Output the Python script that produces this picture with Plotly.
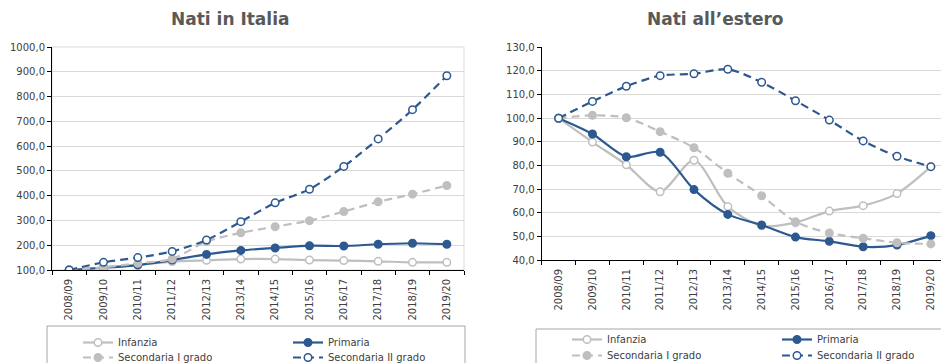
import plotly.graph_objects as go

# School years (x categories)
anni = ["2008/09", "2009/10", "2010/11", "2011/12", "2012/13", "2013/14",
        "2014/15", "2015/16", "2016/17", "2017/18", "2018/19", "2019/20"]

# Index numbers (2008/09 = 100) - students born in Italy
italia_infanzia = [100, 111, 120, 134, 139, 144, 144, 140, 138, 135, 131, 131]
italia_primaria = [100, 109, 120, 140, 163, 179, 189, 198, 197, 204, 208, 204]
italia_sec1 = [100, 111, 127, 145, 215, 250, 275, 299, 336, 375, 406, 441]
italia_sec2 = [100, 131, 150, 175, 221, 295, 371, 426, 518, 629, 747, 884]

# Index numbers (2008/09 = 100) - students born abroad
estero_infanzia = [100, 89.9, 80.3, 68.9, 82.2, 62.6, 54.5, 55.8, 60.7, 63.0, 68.1, 79.5]
estero_primaria = [100, 93.3, 83.7, 85.6, 69.8, 59.3, 54.8, 49.7, 47.9, 45.6, 46.3, 50.3]
estero_sec1 = [100, 101.2, 100.2, 94.3, 87.5, 76.7, 67.2, 56.2, 51.4, 49.2, 47.3, 46.8]
estero_sec2 = [100, 107.1, 113.5, 118.0, 118.8, 120.7, 115.2, 107.4, 99.2, 90.4, 83.9, 79.5]

titoli = ["Nati in Italia", "Nati all\u2019estero"]
serie_nomi = ["Infanzia", "Primaria", "Secondaria I grado", "Secondaria II grado"]

BLU = "#2D5990"
GRIGIO = "#BFBFBF"
TESTO = "#404040"
W, H = 941, 363

styles = [
    dict(color=GRIGIO, dash="solid", fill="white"),
    dict(color=BLU, dash="solid", fill=BLU),
    dict(color=GRIGIO, dash="8px,5px", fill=GRIGIO),
    dict(color=BLU, dash="8px,5px", fill="white"),
]

fig = go.Figure()

panels = [
    ([italia_infanzia, italia_primaria, italia_sec1, italia_sec2], "x", "y", ["legend", "legend2"]),
    ([estero_infanzia, estero_primaria, estero_sec1, estero_sec2], "x2", "y2", ["legend3", "legend4"]),
]

for serie, xa, ya, legs in panels:
    for i, (nome, vals, st) in enumerate(zip(serie_nomi, serie, styles)):
        fig.add_trace(go.Scatter(
            x=anni, y=vals, name=nome, xaxis=xa, yaxis=ya,
            mode="lines+markers",
            line=dict(color=st["color"], width=2.2, dash=st["dash"], shape="spline", smoothing=0.8),
            marker=dict(size=7.5, color=st["fill"], line=dict(color=st["color"], width=1.5)),
            legend=legs[i // 2],
        ))

def px_x(p):
    return p / W

def px_y(p):
    return 1 - p / H

axis_common = dict(
    showline=True, linecolor="#000000", linewidth=1,
    ticks="outside", tickcolor="#000000", ticklen=4,
    tickfont=dict(family="DejaVu Sans", size=10, color=TESTO),
    automargin=False,
)

fig.update_layout(
    width=W, height=H,
    margin=dict(l=0, r=0, t=0, b=0, autoexpand=False),
    paper_bgcolor="white", plot_bgcolor="white",
    separators=",.",
    showlegend=True,
    xaxis=dict(domain=[px_x(52), px_x(464)], type="category", range=[-0.5, 11.5],
               tickson="boundaries", tickangle=-90, showgrid=False,
               ticklabelstandoff=4, anchor="y", **axis_common),
    yaxis=dict(domain=[px_y(270), px_y(47)], range=[100, 1000], dtick=100,
               tickformat=".1f", showgrid=True, gridcolor="#D9D9D9", gridwidth=1,
               anchor="x", **axis_common),
    xaxis2=dict(domain=[px_x(541.7), 1.0], type="category", range=[-0.5, 11.3],
                tickson="boundaries", tickangle=-90, showgrid=False,
                ticklabelstandoff=4, anchor="y2", **axis_common),
    yaxis2=dict(domain=[px_y(260), px_y(47.3)], range=[40, 130], dtick=10,
                tickformat=".1f", showgrid=True, gridcolor="#D9D9D9", gridwidth=1,
                anchor="x2", **axis_common),
)

leg_common = dict(
    orientation="h", xanchor="left", yanchor="top",
    bgcolor="rgba(0,0,0,0)", borderwidth=0,
    font=dict(family="DejaVu Sans", size=10, color=TESTO),
    entrywidth=165, entrywidthmode="pixels", itemsizing="trace",
)
fig.update_layout(
    legend=dict(x=px_x(78), y=px_y(328), **leg_common),
    legend2=dict(x=px_x(78), y=px_y(343), **leg_common),
    legend3=dict(x=px_x(567), y=px_y(325), **leg_common),
    legend4=dict(x=px_x(567), y=px_y(341), **leg_common),
)

# Chart titles
for cx, testo in zip([230, 715], titoli):
    fig.add_annotation(x=px_x(cx), y=px_y(19), xref="paper", yref="paper",
                       text=f"<b>{testo}</b>", showarrow=False,
                       font=dict(family="DejaVu Sans", size=17, color="#595959"),
                       xanchor="center", yanchor="middle")

# Plot-area border of the left panel and legend frames
fig.add_shape(type="rect", xref="x domain", yref="y domain", x0=0, x1=1, y0=0, y1=1,
              line=dict(color="#D9D9D9", width=1), layer="below")
fig.add_shape(type="rect", xref="paper", yref="paper",
              x0=px_x(47), x1=px_x(465), y0=px_y(375), y1=px_y(326),
              line=dict(color="#A6A6A6", width=1), layer="below")
fig.add_shape(type="rect", xref="paper", yref="paper",
              x0=px_x(536), x1=px_x(960), y0=px_y(375), y1=px_y(329),
              line=dict(color="#A6A6A6", width=1), layer="below")

fig.write_html("out.html")
